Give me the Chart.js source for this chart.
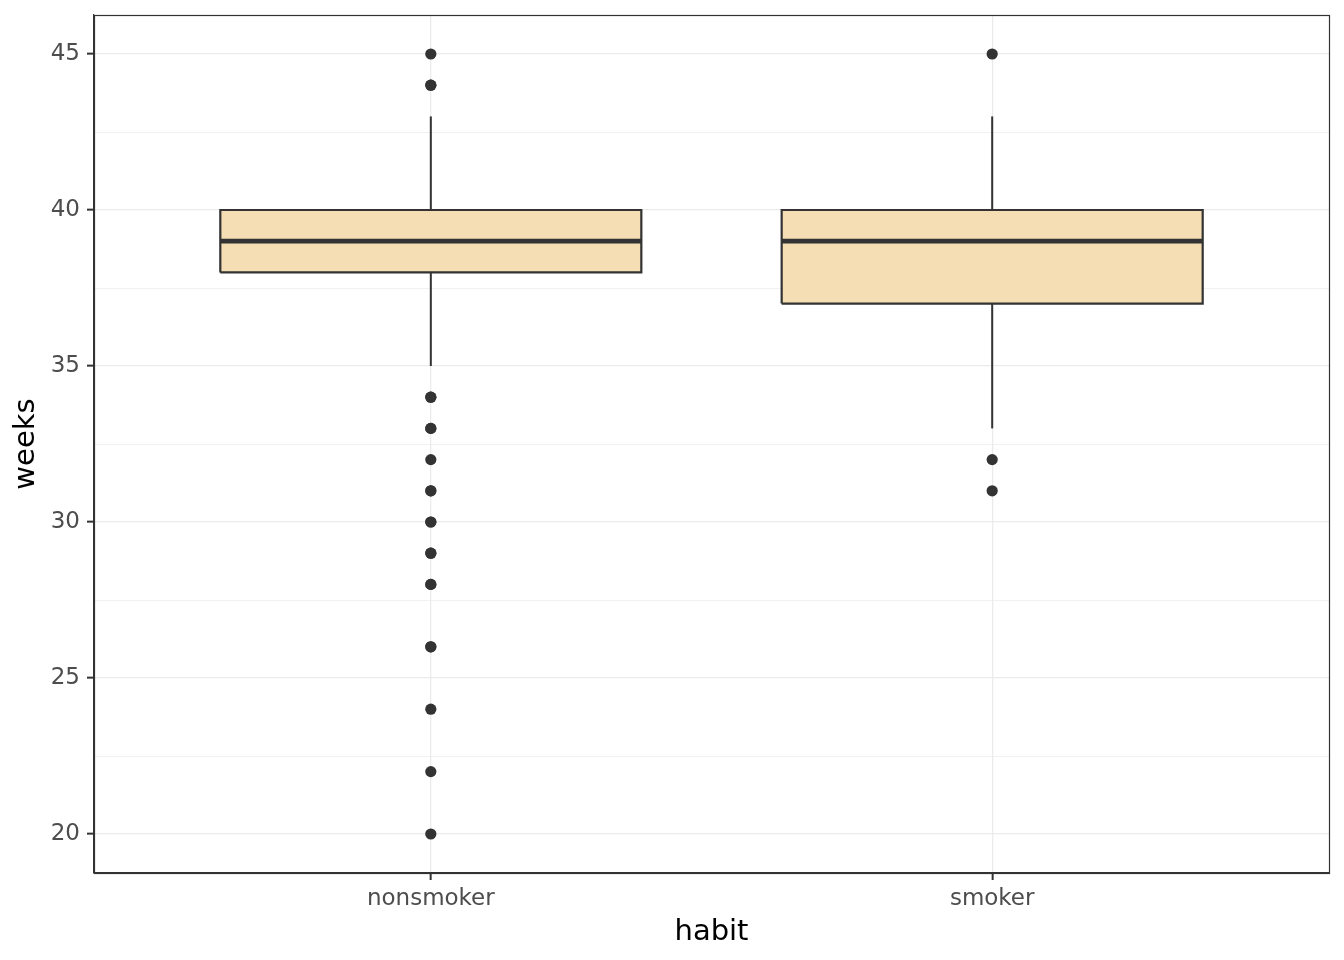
<!DOCTYPE html>
<html>
<head>
<meta charset="utf-8">
<script src="https://cdn.jsdelivr.net/npm/chart.js@4/dist/chart.umd.min.js"></script>
<style>
html,body{margin:0;padding:0;background:#fff;}
#wrap{width:1344px;height:960px;}
</style>
</head>
<body>
<div id="wrap"><canvas id="c" width="1344" height="960"></canvas></div>
<script>
const categories = ["nonsmoker", "smoker"];
const q1 = [38, 37];
const median = [39, 39];
const q3 = [40, 40];
const whiskerLow = [35, 33];
const whiskerHigh = [43, 43];
// repeated values = overplotted outliers
const outliersNonsmoker = [45, 44, 44, 34, 34, 33, 33, 32, 31, 31, 30, 30, 29, 29, 28, 28, 26, 26, 24, 22, 20];
const outliersSmoker = [45, 32, 31];
const yTicks = [20, 22.5, 25, 27.5, 30, 32.5, 35, 37.5, 40, 42.5, 45];

const outliers = [outliersNonsmoker, outliersSmoker];
const boxHalf = 0.375;
const dark = '#333333';

const datasets = [];
datasets.push({
  type: 'bar',
  data: categories.map((c, i) => ({x: i + 1, y: [q1[i], q3[i]]})),
  backgroundColor: '#F5DEB3',
  borderWidth: 0,
  barPercentage: 0.75,
  categoryPercentage: 1,
  grouped: false,
  order: 5
});
categories.forEach((c, i) => {
  const x = i + 1;
  // box outline
  datasets.push({type: 'line', data: [
      {x: x - boxHalf, y: q1[i]}, {x: x + boxHalf, y: q1[i]}, {x: x + boxHalf, y: q3[i]},
      {x: x - boxHalf, y: q3[i]}, {x: x - boxHalf, y: q1[i]}],
    borderColor: dark, borderWidth: 2.2, pointRadius: 0, fill: false, tension: 0,
    borderJoinStyle: 'miter', order: 3});
  datasets.push({type: 'line', data: [{x: x, y: q3[i]}, {x: x, y: whiskerHigh[i]}],
    borderColor: dark, borderWidth: 2, pointRadius: 0, fill: false, order: 4});
  datasets.push({type: 'line', data: [{x: x, y: whiskerLow[i]}, {x: x, y: q1[i]}],
    borderColor: dark, borderWidth: 2, pointRadius: 0, fill: false, order: 4});
  datasets.push({type: 'line', data: [{x: x - boxHalf, y: median[i]}, {x: x + boxHalf, y: median[i]}],
    borderColor: dark, borderWidth: 4.8, pointRadius: 0, fill: false, borderCapStyle: 'butt', order: 2});
  datasets.push({type: 'scatter', data: outliers[i].map(v => ({x: x, y: v})),
    backgroundColor: dark, borderColor: dark, borderWidth: 0, pointRadius: 5.6, order: 1});
});

const frame = {
  id: 'frame',
  afterDraw(chart) {
    const a = chart.chartArea, ctx = chart.ctx;
    ctx.save();
    ctx.strokeStyle = dark;
    ctx.lineWidth = 1.2;
    ctx.strokeRect(Math.round(a.left) + 0.5, Math.round(a.top) + 0.5, Math.round(a.right - a.left), Math.round(a.bottom - a.top));
    ctx.restore();
  }
};

new Chart(document.getElementById('c'), {
  type: 'scatter',
  data: {datasets},
  options: {
    responsive: false,
    animation: false,
    devicePixelRatio: 1,
    layout: {padding: {left: 0, top: 15, right: 15, bottom: 0}},
    plugins: {legend: {display: false}, tooltip: {enabled: false}},
    scales: {
      x: {
        type: 'linear',
        min: 0.4, max: 2.6,
        offset: false,
        afterBuildTicks: s => { s.ticks = categories.map((c, i) => ({value: i + 1})); },
        afterFit: s => { s.height = 87; s.paddingLeft = 0; s.paddingRight = 0; },
        ticks: {
          callback: v => categories[Math.round(v) - 1],
          color: '#4D4D4D',
          font: {family: 'DejaVu Sans', size: 23},
          padding: 5,
          maxRotation: 0
        },
        grid: {color: '#EBEBEB', lineWidth: 1.3, tickColor: dark, tickLength: 7, tickWidth: 2, offset: false},
        border: {display: true, color: dark, width: 1.2},
        title: {display: true, text: 'habit', color: '#000', font: {family: 'DejaVu Sans', size: 29}, padding: {top: 0, bottom: 10}}
      },
      y: {
        type: 'linear',
        min: 18.75, max: 46.25,
        afterBuildTicks: s => { s.ticks = yTicks.map(v => ({value: v})); },
        afterFit: s => { s.width = 94; s.paddingTop = 0; s.paddingBottom = 0; },
        ticks: {
          callback: v => (v % 5 === 0 ? String(v) : ''),
          color: '#4D4D4D',
          font: {family: 'DejaVu Sans', size: 23},
          padding: 7
        },
        grid: {
          color: '#EBEBEB',
          lineWidth: ctx => (ctx.tick && ctx.tick.value % 5 === 0 ? 1.3 : 0.7),
          tickColor: ctx => (ctx.tick && ctx.tick.value % 5 === 0 ? dark : 'rgba(0,0,0,0)'),
          tickLength: 7,
          tickWidth: 2
        },
        border: {display: true, color: dark, width: 1.2},
        title: {display: true, text: 'weeks', color: '#000', font: {family: 'DejaVu Sans', size: 29}, padding: {top: 9, bottom: 0}}
      }
    }
  },
  plugins: [frame]
});
</script>
</body>
</html>
